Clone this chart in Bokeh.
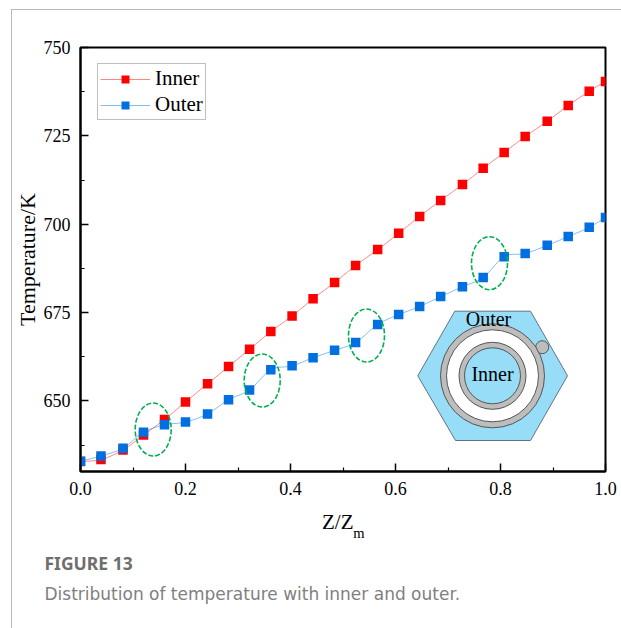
import numpy as np
from bokeh.plotting import figure
from bokeh.embed import file_html
from bokeh.resources import INLINE
from bokeh.models import Label, Legend, LegendItem, FixedTicker, Range1d, Title, LinearAxis

z_values = [0.0, 0.039, 0.081, 0.12, 0.16, 0.2, 0.242, 0.282, 0.322, 0.3625, 0.403, 0.443, 0.484,
            0.524, 0.566, 0.606, 0.646, 0.686, 0.7275, 0.767, 0.807, 0.847, 0.889, 0.929, 0.969, 1.0]
inner_values = [632.8, 633.4, 636.1, 640.3, 644.7, 649.7, 654.8, 659.7, 664.6, 669.6, 674.0, 678.9, 683.5,
                688.3, 692.8, 697.4, 702.2, 706.7, 711.2, 715.8, 720.3, 724.8, 729.1, 733.6, 737.6, 740.4]
outer_values = [632.9, 634.4, 636.6, 641.1, 643.2, 644.0, 646.3, 650.3, 653.1, 658.8, 659.9, 662.2, 664.3,
                666.5, 671.6, 674.4, 676.7, 679.5, 682.3, 684.9, 690.8, 691.7, 694.0, 696.5, 699.1, 701.9]
y_ticks = [650, 675, 700, 725, 750]
x_ticks = [0.0, 0.2, 0.4, 0.6, 0.8, 1.0]

SERIF = "Liberation Serif"
SANS = "Noto Sans"
W, H = 621, 628
LEFT, TOP, FW, FH = 80, 47, 525, 424
XMIN, XMAX, YMIN, YMAX = 0.0, 1.0, 630.0, 750.0


def dx(px):
    return XMIN + (px - LEFT) / FW * (XMAX - XMIN)


def dy(py):
    return YMAX - (py - TOP) / FH * (YMAX - YMIN)


def smooth(x, y, n=12):
    x = np.asarray(x, float)
    y = np.asarray(y, float)
    xs, ys = [], []
    for i in range(len(x) - 1):
        x0, x1 = x[i], x[i + 1]
        y0, y1 = y[i], y[i + 1]
        m0 = (y1 - y[i - 1]) / (x1 - x[i - 1]) if i > 0 else (y1 - y0) / (x1 - x0)
        m1 = (y[i + 2] - y0) / (x[i + 2] - x0) if i < len(x) - 2 else (y1 - y0) / (x1 - x0)
        t = np.linspace(0, 1, n, endpoint=False)
        h = x1 - x0
        ys.append((2*t**3 - 3*t**2 + 1)*y0 + (t**3 - 2*t**2 + t)*h*m0 + (-2*t**3 + 3*t**2)*y1 + (t**3 - t**2)*h*m1)
        xs.append(x0 + t*h)
    xs.append([x[-1]])
    ys.append([y[-1]])
    return np.concatenate(xs), np.concatenate(ys)


p = figure(width=W, height=H, output_backend="svg", toolbar_location=None,
           x_range=Range1d(XMIN, XMAX), y_range=Range1d(YMIN, YMAX),
           min_border_left=LEFT, min_border_top=TOP, min_border_right=W - LEFT - FW,
           min_border_bottom=H - TOP - FH)
p.grid.visible = False
p.outline_line_color = "#000000"
p.outline_line_width = 2
p.background_fill_color = "white"
p.border_fill_alpha = 0
p.styles = {"background": "linear-gradient(#B8B8B8,#B8B8B8) 11px 9px / 1px 100% no-repeat, "
                          "linear-gradient(#B8B8B8,#B8B8B8) 11px 9px / 100% 1px no-repeat, #FFFFFF"}

for ax, ticks in ((p.xaxis[0], x_ticks), (p.yaxis[0], y_ticks)):
    ax.ticker = FixedTicker(ticks=ticks, minor_ticks=[0.1, 0.3, 0.5, 0.7, 0.9] if ticks is x_ticks
                            else [637.5, 662.5, 687.5, 712.5, 737.5])
    ax.axis_line_color = "#000000"
    ax.axis_line_width = 2
    ax.major_tick_in = 8
    ax.major_tick_out = 0
    ax.minor_tick_in = 4
    ax.minor_tick_out = 0
    ax.major_tick_line_width = 1.5
    ax.minor_tick_line_width = 1.2
    ax.major_tick_line_color = "#000000"
    ax.minor_tick_line_color = "#000000"
    ax.major_label_text_font = SERIF
    ax.major_label_text_font_size = "18px"
    ax.major_label_text_color = "#000000"
p.xaxis[0].major_label_standoff = 10
p.yaxis[0].major_label_standoff = 10
p.xaxis[0].major_label_overrides = {0.0: "0.0", 1.0: "1.0"}
p.xaxis[0].axis_label = "Z/Z\u00a0\u00a0"
p.xaxis[0].axis_label_standoff = 12
p.xaxis[0].axis_label_text_font = SERIF
p.xaxis[0].axis_label_text_font_style = "normal"
p.xaxis[0].axis_label_text_color = "#000000"
p.xaxis[0].axis_label_text_font_size = "21px"
p.yaxis[0].axis_label = "Temperature/K"
p.yaxis[0].axis_label_standoff = 1
p.yaxis[0].axis_label_text_font = SERIF
p.yaxis[0].axis_label_text_font_style = "normal"
p.yaxis[0].axis_label_text_color = "#000000"
p.yaxis[0].axis_label_text_font_size = "22px"

# subscript of the x label, carried by a bare second axis
sub_tick = dx(358.5)
sub_axis = LinearAxis(ticker=FixedTicker(ticks=[sub_tick]), major_label_overrides={sub_tick: "m"},
                      axis_line_color=None, major_tick_line_color=None, minor_tick_line_color=None,
                      major_tick_in=0, major_tick_out=0, minor_tick_in=0, minor_tick_out=0,
                      major_label_standoff=-12, major_label_text_font=SERIF,
                      major_label_text_font_size="14.5px", major_label_text_color="#000000")
p.add_layout(sub_axis, "below")

# curves
xi, yi = smooth(z_values, inner_values)
xo, yo = smooth(z_values, outer_values)
l_in = p.line(xi, yi, line_color="#FF0000", line_width=0.8, line_alpha=0.6)
s_in = p.scatter(z_values, inner_values, marker="square", size=9.5, fill_color="#FF0000", line_color="#FF0000", line_width=0)
l_out = p.line(xo, yo, line_color="#0070E0", line_width=0.8, line_alpha=0.6)
s_out = p.scatter(z_values, outer_values, marker="square", size=9.5, fill_color="#006FE0", line_color="#006FE0", line_width=0)

# highlighted regions
p.ellipse([dx(152.7), dx(261.7), dx(366), dx(489)], [dy(429), dy(380), dy(335), dy(262.7)],
          width=36, height=53, width_units="screen", height_units="screen",
          fill_alpha=0, line_color="#00B050", line_width=1.6, line_dash="5 2")

# inset cross-section
cx, cy = 492, 375.3
hx = [454.3, 530, 567, 530, 455, 417.3]
hy = [310.7, 310.7, 375.3, 440, 440, 375.3]
p.patch([dx(v) for v in hx], [dy(v) for v in hy], fill_color="#97DDF7", line_color="#5F7480", line_width=1)


def disc(px, py, d, fill, line="#555555", lw=1):
    p.ellipse([dx(px)], [dy(py)], width=d, height=d, width_units="screen", height_units="screen",
              fill_color=fill, line_color=line, line_width=lw)


disc(541.7, 346.7, 13, "#BDBDBD")
disc(cx, cy, 104, "#BDBDBD")
disc(cx, cy, 92, "#FFFFFF")
disc(cx, cy, 67, "#BDBDBD")
disc(cx, cy, 56, "#97DDF7")

for txt, px, py in (("Outer", 488, 318), ("Inner", 492, 373)):
    p.add_layout(Label(x=dx(px), y=dy(py), text=txt, text_font=SERIF, text_font_size="20px",
                       text_align="center", text_baseline="middle", text_color="#000000"))

# legend
legend = Legend(items=[LegendItem(label="Inner", renderers=[l_in, s_in]),
                       LegendItem(label="Outer", renderers=[l_out, s_out])],
                location=(17, 351), orientation="vertical", glyph_width=50, glyph_height=20,
                label_text_font=SERIF, label_text_font_size="21px", label_text_color="#000000",
                border_line_color="#808080", border_line_width=1, padding=2, spacing=1, margin=0,
                label_standoff=5, background_fill_alpha=1)
p.add_layout(legend, "center")

# caption
p.add_layout(Title(text="FIGURE 13", align="left", offset=-36, text_font=SANS, text_font_size="17.5px",
                   text_font_style="bold", text_color="#6E6E6E", standoff=10, vertical_align="bottom"), "below")
p.add_layout(Title(text="Distribution of temperature with inner and outer.", align="left", offset=-36,
                   text_font="DejaVu Sans", text_font_size="17px", text_font_style="normal",
                   text_color="#808080", standoff=5), "below")

open("out.html", "w").write(file_html(p, INLINE))
